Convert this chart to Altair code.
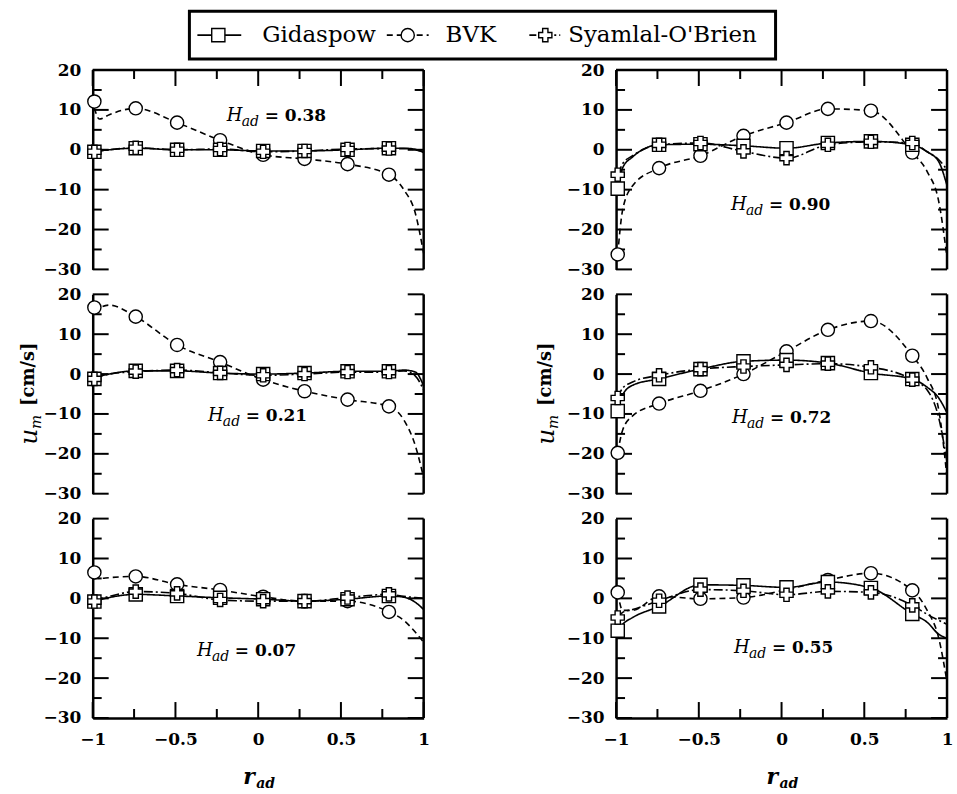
import altair as alt
import pandas as pd

# ---------------- data ----------------
SERIES = ["Gidaspow", "BVK", "Syamlal-O'Brien"]
R_MARK = [-0.99, -0.74, -0.49, -0.23, 0.03, 0.28, 0.54, 0.79]
R_CURVE = [-0.99, -0.96, -0.90, -0.74, -0.49, -0.23, 0.03, 0.28, 0.54, 0.79, 0.88, 0.95, 1.0]

# H_ad = 0.38
G_M_038 = [-0.5, 0.4, 0.0, 0.0, -0.3, -0.3, 0.0, 0.4]
G_C_038 = [-0.5, -0.3, 0.0, 0.4, 0.0, 0.0, -0.3, -0.3, 0.0, 0.4, 0.4, 0.1, -0.7]
B_M_038 = [12.1, 10.4, 6.8, 2.4, -1.25, -2.3, -3.6, -6.25]
B_C_038 = [10.5, 7.7, 8.8, 10.4, 6.8, 2.4, -1.25, -2.3, -3.6, -6.25, -10.0, -16.0, -26.0]
S_M_038 = [-0.5, 0.5, 0.0, 0.2, -0.5, -0.3, 0.2, 0.3]
S_C_038 = [-0.5, -0.3, 0.0, 0.5, 0.0, 0.2, -0.5, -0.3, 0.2, 0.3, 0.3, 0.0, -0.5]

# H_ad = 0.90
G_M_090 = [-9.75, 1.25, 1.4, 1.0, 0.4, 1.7, 2.1, 1.25]
G_C_090 = [-9.75, -4.5, -1.8, 1.25, 1.4, 1.0, 0.4, 1.7, 2.1, 1.25, -0.5, -3.0, -9.0]
B_M_090 = [-26.25, -4.6, -1.5, 3.5, 6.8, 10.25, 9.8, -0.7]
B_C_090 = [-26.25, -15.0, -9.0, -4.6, -1.5, 3.5, 6.8, 10.25, 9.8, -0.7, -5.5, -13.0, -27.0]
S_M_090 = [-6.25, 1.25, 1.7, -0.4, -2.1, 1.25, 2.0, 1.7]
S_C_090 = [-6.25, -3.5, -1.5, 1.25, 1.7, -0.4, -2.1, 1.25, 2.0, 1.7, -0.5, -2.5, -5.0]

# H_ad = 0.21
G_M_021 = [-1.2, 0.8, 0.8, 0.25, 0.0, 0.25, 0.7, 0.7]
G_C_021 = [-1.2, -0.6, 0.0, 0.8, 0.8, 0.25, 0.0, 0.25, 0.7, 0.7, 1.0, 0.5, -3.0]
B_M_021 = [16.7, 14.4, 7.3, 3.0, -1.4, -4.3, -6.4, -8.1]
B_C_021 = [15.5, 16.5, 17.3, 14.4, 7.3, 3.0, -1.4, -4.3, -6.4, -8.1, -11.5, -18.0, -26.0]
S_M_021 = [-1.2, 0.6, 1.0, 0.3, -0.3, 0.0, 0.5, 0.5]
S_C_021 = [-1.2, -0.6, 0.0, 0.6, 1.0, 0.3, -0.3, 0.0, 0.5, 0.5, 0.8, -0.5, -4.0]

# H_ad = 0.72
G_M_072 = [-9.3, -1.2, 1.25, 3.2, 3.5, 2.75, 0.25, -1.25]
G_C_072 = [-9.3, -5.2, -2.8, -1.2, 1.25, 3.2, 3.5, 2.75, 0.25, -1.25, -3.3, -6.0, -9.75]
B_M_072 = [-19.75, -7.4, -4.2, 0.0, 5.7, 11.1, 13.3, 4.6]
B_C_072 = [-19.75, -14.0, -10.5, -7.4, -4.2, 0.0, 5.7, 11.1, 13.3, 4.6, -1.0, -9.0, -26.0]
S_M_072 = [-6.0, -0.3, 1.25, 1.9, 2.3, 2.6, 1.7, -1.4]
S_C_072 = [-6.0, -3.5, -2.0, -0.3, 1.25, 1.9, 2.3, 2.6, 1.7, -1.4, -4.0, -11.0, -22.0]

# H_ad = 0.07
G_M_007 = [-0.8, 1.0, 0.6, 0.15, -0.2, -0.7, -0.2, 0.6]
G_C_007 = [-0.8, -0.4, 0.2, 1.0, 0.6, 0.15, -0.2, -0.7, -0.2, 0.6, 0.3, -1.0, -2.8]
B_M_007 = [6.5, 5.5, 3.5, 2.1, 0.4, -0.7, -0.7, -3.4]
B_C_007 = [6.0, 5.0, 5.2, 5.5, 3.5, 2.1, 0.4, -0.7, -0.7, -3.4, -5.5, -8.5, -11.0]
S_M_007 = [-0.8, 1.7, 1.25, -0.4, -0.7, -0.7, 0.2, 1.0]
S_C_007 = [-0.8, -0.2, 0.5, 1.7, 1.25, -0.4, -0.7, -0.7, 0.2, 1.0, 0.5, 0.2, 0.0]

# H_ad = 0.55
G_M_055 = [-8.1, -2.0, 3.4, 3.25, 2.75, 4.1, 2.6, -3.9]
G_C_055 = [-8.1, -6.5, -4.8, -2.0, 3.4, 3.25, 2.75, 4.1, 2.6, -3.9, -6.0, -9.0, -10.0]
B_M_055 = [1.5, 0.5, -0.1, 0.2, 2.2, 4.6, 6.3, 2.0]
B_C_055 = [1.5, -3.0, -3.0, 0.5, -0.1, 0.2, 2.2, 4.6, 6.3, 2.0, -3.0, -10.0, -21.0]
S_M_055 = [-4.8, -0.6, 2.2, 1.9, 0.9, 1.75, 1.5, -1.75]
S_C_055 = [-4.8, -3.5, -2.8, -0.6, 2.2, 1.9, 0.9, 1.75, 1.5, -1.75, -4.0, -5.5, -6.5]

H_LABELS = ["0.38", "0.90", "0.21", "0.72", "0.07", "0.55"]
PANEL_DATA = [
    (G_M_038, G_C_038, B_M_038, B_C_038, S_M_038, S_C_038),
    (G_M_090, G_C_090, B_M_090, B_C_090, S_M_090, S_C_090),
    (G_M_021, G_C_021, B_M_021, B_C_021, S_M_021, S_C_021),
    (G_M_072, G_C_072, B_M_072, B_C_072, S_M_072, S_C_072),
    (G_M_007, G_C_007, B_M_007, B_C_007, S_M_007, S_C_007),
    (G_M_055, G_C_055, B_M_055, B_C_055, S_M_055, S_C_055),
]

Y_TICKS_MAJOR = [-30, -20, -10, 0, 10, 20]
Y_TICKS_MINOR = [-25, -15, -5, 5, 15]
X_TICKS_MAJOR = [-1, -0.5, 0, 0.5, 1]
X_TICKS_MINOR = [-0.75, -0.25, 0.25, 0.75]

# ---------------- layout / style ----------------
W, H = 332, 200
FONT = "DejaVu Serif"
MAJ, MIN = 16, 9
MSIZE = 175
ANNOT_POS = [(-0.19, 7.1), (-0.305, -15.0), (-0.304, -11.85),
             (-0.299, -12.25), (-0.37, -14.4), (-0.287, -13.75)]

xs = alt.Scale(domain=[-1, 1], nice=False, zero=False)
ys = alt.Scale(domain=[-30, 20], nice=False, zero=False)
dash_scale = alt.Scale(domain=SERIES, range=[[1, 0], [6, 4], [9, 3, 2, 3]])
shape_scale = alt.Scale(domain=SERIES, range=["square", "circle", "cross"])
ONE = pd.DataFrame({"a": [0]})

LABEL_STYLE = dict(labelFont=FONT, labelFontWeight="bold", labelFontSize=17, labelColor="black",
                   labelOverlap=False, labelFlush=False, labels=True, ticks=False, grid=False,
                   domain=True, domainColor="black", domainWidth=2.5, title=None)


def make_panel(i):
    row, col = divmod(i, 2)
    gm, gc, bm, bc, sm, sc = PANEL_DATA[i]
    curves = []
    for s, c in zip(SERIES, [gc, bc, sc]):
        for r, u in zip(R_CURVE, c):
            curves.append({"series": s, "r": r, "u": u})
    curve_df = pd.DataFrame(curves)
    marks = []
    for s, m in [(SERIES[1], bm), (SERIES[0], gm), (SERIES[2], sm)]:
        for r, u in zip(R_MARK, m):
            marks.append({"series": s, "r": r, "u": u})
    mark_df = pd.DataFrame(marks)

    x_axis = alt.Axis(values=X_TICKS_MAJOR, format="~g", labelPadding=14, **LABEL_STYLE) if row == 2 else None
    y_axis = alt.Axis(values=Y_TICKS_MAJOR, format="d", labelPadding=12, **LABEL_STYLE)

    def X(f):
        return alt.X(f, scale=xs, axis=x_axis)

    def Y(f):
        return alt.Y(f, scale=ys, axis=y_axis)

    lines = alt.Chart(curve_df).mark_line(interpolate="monotone", color="black", strokeWidth=1.6).encode(
        x=X("r:Q"), y=Y("u:Q"),
        strokeDash=alt.StrokeDash("series:N", scale=dash_scale, legend=None),
        detail="series:N",
    )
    pts = alt.Chart(mark_df).mark_point(filled=True, fill="white", stroke="black", strokeWidth=1.4,
                                        size=MSIZE, opacity=1).encode(
        x=X("r:Q"), y=Y("u:Q"),
        shape=alt.Shape("series:N", scale=shape_scale, legend=None),
    )

    layers = [lines]
    # inward y ticks, left and right
    for vals, ln in [(Y_TICKS_MAJOR, MAJ), (Y_TICKS_MINOR, MIN)]:
        df = pd.DataFrame({"u": vals})
        for x0, x1 in [(0, ln), (W - ln, W)]:
            layers.append(alt.Chart(df).mark_rule(color="black", strokeWidth=2).encode(
                y=Y("u:Q"), x=alt.value(x0), x2=alt.value(x1)))
    # inward x ticks on top (row 0) or bottom (row 2)
    if row in (0, 2):
        for vals, ln in [(X_TICKS_MAJOR, MAJ), (X_TICKS_MINOR, MIN)]:
            df = pd.DataFrame({"r": vals})
            y0, y1 = (0, ln) if row == 0 else (H - ln, H)
            layers.append(alt.Chart(df).mark_rule(color="black", strokeWidth=2).encode(
                x=X("r:Q"), y=alt.value(y0), y2=alt.value(y1)))
    # right border
    layers.append(alt.Chart(ONE).mark_rule(color="black", strokeWidth=2.5).encode(
        x=alt.value(W), y=alt.value(0), y2=alt.value(H)))
    if row == 0:
        layers.append(alt.Chart(ONE).mark_rule(color="black", strokeWidth=2.5).encode(
            x=alt.value(0), x2=alt.value(W), y=alt.value(0)))

    layers.append(pts)

    # H_ad annotation
    ar, au = ANNOT_POS[i]
    adf = pd.DataFrame({"r": [ar], "u": [au]})
    base = alt.Chart(adf).encode(x=X("r:Q"), y=Y("u:Q"))
    layers.append(base.mark_text(text="H", font=FONT, fontStyle="italic", fontSize=18,
                                 align="left", baseline="alphabetic", color="black"))
    layers.append(base.mark_text(text="ad", font=FONT, fontStyle="italic", fontSize=14,
                                 align="left", baseline="alphabetic", dx=15, dy=5, color="black"))
    layers.append(base.mark_text(text="= " + H_LABELS[i], font=FONT, fontWeight="bold", fontSize=17,
                                 align="left", baseline="alphabetic", dx=38, color="black"))

    # y title (middle row)
    if row == 1:
        xt = -56 if col == 0 else -62
        yb = H / 2 + 51
        t = alt.Chart(ONE)
        layers.append(t.mark_text(text="u", font=FONT, fontStyle="italic", fontSize=25, angle=270,
                                  align="left", baseline="alphabetic", color="black").encode(
            x=alt.value(xt), y=alt.value(yb)))
        layers.append(t.mark_text(text="m", font=FONT, fontStyle="italic", fontSize=15, angle=270,
                                  align="left", baseline="alphabetic", dx=16, dy=4, color="black").encode(
            x=alt.value(xt), y=alt.value(yb)))
        layers.append(t.mark_text(text="[cm/s]", font=FONT, fontWeight="bold", fontSize=18, angle=270,
                                  align="left", baseline="alphabetic", dx=39, dy=-3, color="black").encode(
            x=alt.value(xt), y=alt.value(yb)))
    # x title (bottom row)
    if row == 2:
        t = alt.Chart(ONE)
        layers.append(t.mark_text(text="r", font=FONT, fontStyle="italic", fontWeight="bold", fontSize=22,
                                  align="left", baseline="alphabetic", color="black").encode(
            x=alt.value(W / 2 - 15), y=alt.value(H + 66)))
        layers.append(t.mark_text(text="ad", font=FONT, fontStyle="italic", fontWeight="bold", fontSize=14,
                                  align="left", baseline="alphabetic", dy=4, color="black").encode(
            x=alt.value(W / 2 - 2), y=alt.value(H + 66)))

    return alt.layer(*layers).properties(width=W, height=H)


panels = [make_panel(i) for i in range(6)]
grid = alt.concat(*panels, columns=2, spacing={"row": 25, "column": 193}, bounds="flush")

# ---------------- legend ----------------
LY = 24
leg_layers = [
    alt.Chart(ONE).mark_rect(fill="white", stroke="black", strokeWidth=3).encode(
        x=alt.value(97), x2=alt.value(685), y=alt.value(0), y2=alt.value(48)),
]
LEG_ITEMS = [
    # (series, line x1, line x2, marker x, text x, dash, shape)
    (SERIES[0], 105, 149, 126, 170, [1, 0], "square"),
    (SERIES[1], 295, 337, 316, 354, [6, 4], "circle"),
    (SERIES[2], 438, 469, 454, 477, [7, 3, 2, 3], "cross"),
]
for name, lx1, lx2, mx, tx, dash, shp in LEG_ITEMS:
    leg_layers.append(alt.Chart(ONE).mark_rule(color="black", strokeWidth=1.8, strokeDash=dash).encode(
        x=alt.value(lx1), x2=alt.value(lx2), y=alt.value(LY)))
    leg_layers.append(alt.Chart(ONE).mark_point(shape=shp, filled=True, fill="white", stroke="black",
                                                strokeWidth=1.4, size=MSIZE, opacity=1).encode(
        x=alt.value(mx), y=alt.value(LY)))
    leg_layers.append(alt.Chart(ONE).mark_text(text=name, font=FONT, fontSize=23, align="left",
                                               baseline="middle", color="black").encode(
        x=alt.value(tx), y=alt.value(LY)))
legend = alt.layer(*leg_layers).properties(width=700, height=48)

chart = alt.vconcat(legend, grid, spacing=11, bounds="flush").properties(
    padding={"left": 17, "top": 8, "right": 4, "bottom": 4},
    background="white",
).configure_view(stroke=None)

chart.save("out.html", embed_options={"renderer": "svg", "actions": False})
